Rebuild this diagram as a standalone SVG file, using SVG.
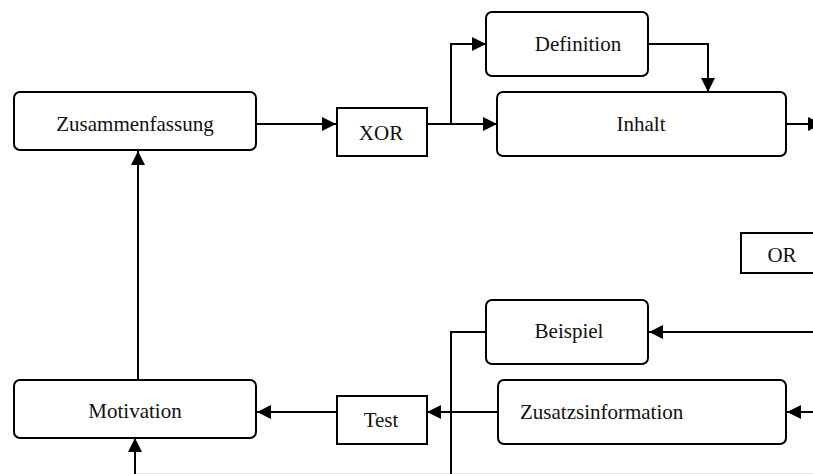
<svg xmlns="http://www.w3.org/2000/svg" width="813" height="474" viewBox="0 0 813 474">
<style>
.box{fill:#fff;stroke:#000;stroke-width:2}
.lbl{font-family:'Liberation Serif','Times New Roman','DejaVu Serif',serif;font-size:21px;fill:#111}
.c{fill:none;stroke:#000;stroke-width:2}
.a{marker-end:url(#ah)}
</style>
<defs>
<marker id="ah" markerUnits="userSpaceOnUse" markerWidth="14" markerHeight="14" refX="14" refY="7" orient="auto" viewBox="0 0 14 14">
<path d="M0,0 L14,7 L0,14 z" fill="#000"/>
</marker>
</defs>
<rect width="813" height="474" fill="#fff"/>
<line x1="135" y1="473.5" x2="813" y2="473.5" stroke="#e6e6e6" stroke-width="1"/>
<g id="connectors">
<path class="c a" d="M256,124 H336"/>
<path class="c a" d="M427,124 H497"/>
<path class="c a" d="M451,124 V44 H486"/>
<path class="c a" d="M648,44 H708 V92"/>
<path class="c a" d="M786,124 H822"/>
<path class="c a" d="M138,380 V151"/>
<path class="c a" d="M135,474 V438"/>
<path class="c a" d="M336,412 H257"/>
<path class="c a" d="M498,412 H427"/>
<path class="c a" d="M813,412 H787"/>
<path class="c a" d="M813,332 H649"/>
<path class="c" d="M486,332 H451 V474"/>
</g>
<g id="zusammenfassung">
<rect class="box" x="14" y="92" width="242" height="58" rx="6"/>
<text class="lbl" font-family="Liberation Serif, serif" x="135" y="131" text-anchor="middle">Zusammenfassung</text>
</g>
<g id="xor">
<rect class="box" x="337" y="108" width="90" height="48"/>
<text class="lbl" font-family="Liberation Serif, serif" x="381" y="140" text-anchor="middle">XOR</text>
</g>
<g id="definition">
<rect class="box" x="486" y="12" width="162" height="64" rx="6"/>
<text class="lbl" font-family="Liberation Serif, serif" x="578" y="51" text-anchor="middle">Definition</text>
</g>
<g id="inhalt">
<rect class="box" x="497" y="92" width="289" height="64" rx="6"/>
<text class="lbl" font-family="Liberation Serif, serif" x="641" y="131" text-anchor="middle">Inhalt</text>
</g>
<g id="or">
<rect class="box" x="741" y="233" width="80" height="40"/>
<text class="lbl" font-family="Liberation Serif, serif" x="782" y="262" text-anchor="middle">OR</text>
</g>
<g id="beispiel">
<rect class="box" x="486" y="300" width="162" height="64" rx="6"/>
<text class="lbl" font-family="Liberation Serif, serif" x="569" y="338" text-anchor="middle">Beispiel</text>
</g>
<g id="zusatzsinformation">
<rect class="box" x="498" y="380" width="288" height="64" rx="6"/>
<text class="lbl" font-family="Liberation Serif, serif" x="520" y="419">Zusatzsinformation</text>
</g>
<g id="test">
<rect class="box" x="337" y="396" width="90" height="48"/>
<text class="lbl" font-family="Liberation Serif, serif" x="381" y="427" text-anchor="middle">Test</text>
</g>
<g id="motivation">
<rect class="box" x="14" y="380" width="242" height="58" rx="6"/>
<text class="lbl" font-family="Liberation Serif, serif" x="135" y="418" text-anchor="middle">Motivation</text>
</g>
</svg>
